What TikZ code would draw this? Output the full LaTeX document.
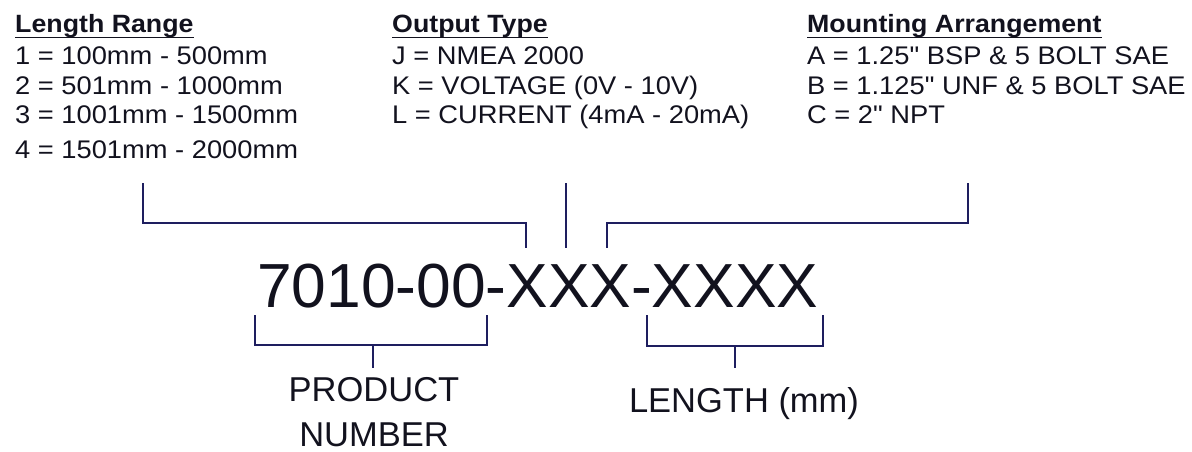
\documentclass[tikz,border=0pt]{standalone}
\usepackage{fontspec}
\setmainfont{Liberation Sans}
\newfontfamily\topfont[FakeStretch=1.07]{Liberation Sans}
\definecolor{navy}{RGB}{30,30,95}
\definecolor{ink}{RGB}{18,18,30}
\begin{document}
\begin{tikzpicture}[x=1pt,y=1pt,
  lbl/.style={inner sep=0, anchor=base west, text=ink, font=\topfont\fontsize{25.5}{30}\selectfont},
  hd/.style={lbl, font=\topfont\bfseries\fontsize{25}{30}\selectfont},
  big/.style={inner sep=0, anchor=base west, text=ink, font=\fontsize{62.3}{70}\selectfont},
  caption/.style={inner sep=0, anchor=base, text=ink, font=\fontsize{34.5}{40}\selectfont},
  brk/.style={draw=navy, line width=2.6pt, line join=miter},
  ul/.style={draw=ink, line width=1.7pt}]
\useasboundingbox (0,0) rectangle (1192,-452);
% headings
\node[hd] (h1) at (15,-33) {Length Range};
\node[hd] (h2) at (392,-33) {Output Type};
\node[hd] (h3) at (807,-33) {Mounting Arrangement};
\foreach \h in {h1,h2,h3}
  \draw[ul] ([yshift=-4.5pt]\h.base west) -- ([yshift=-4.5pt]\h.base east);
% column 1
\node[lbl] (r1) at (15,-65) {1 = 100mm - 500mm};
\node[lbl] (r2) at (15,-95) {2 = 501mm - 1000mm};
\node[lbl] (r3) at (15,-124) {3 = 1001mm - 1500mm};
\node[lbl] (r4) at (15,-158) {4 = 1501mm - 2000mm};
% column 2
\node[lbl] (o1) at (392,-65) {J = NMEA 2000};
\node[lbl] (o2) at (392,-95) {K = VOLTAGE (0V - 10V)};
\node[lbl] (o3) at (392,-124) {L = CURRENT (4mA - 20mA)};
% column 3
\node[lbl] (m1) at (807,-65) {A = 1.25" BSP \& 5 BOLT SAE};
\node[lbl] (m2) at (807,-95) {B = 1.125" UNF \& 5 BOLT SAE};
\node[lbl] (m3) at (807,-124) {C = 2" NPT};
% code
\node[big] (code) at (257,-307) {7010-00-XXX-XXXX};
% upper brackets
\coordinate (la) at (143,-183);
\coordinate (lb) at (526,-248);
\coordinate (ma) at (566,-183);
\coordinate (mb) at (566,-248);
\coordinate (ra) at (968,-183);
\coordinate (rb) at (607,-248);
\draw[brk] (la) |- (526,-223) -- (lb);
\draw[brk] (ma) -- (mb);
\draw[brk] (ra) |- (607,-223) -- (rb);
% lower brackets
\coordinate (pa) at (255,-315);
\coordinate (pb) at (487,-315);
\coordinate (ps) at (373,-345);
\coordinate (pe) at (373,-368);
\draw[brk] (pa) |- (487,-345) -- (pb);
\draw[brk] (ps) -- (pe);
\coordinate (qa) at (647,-315);
\coordinate (qb) at (823,-315);
\coordinate (qs) at (735,-346);
\coordinate (qe) at (735,-368);
\draw[brk] (qa) |- (823,-346) -- (qb);
\draw[brk] (qs) -- (qe);
% labels
\node[caption] (prod) at (374,-401) {PRODUCT};
\node[caption] (num) at (374,-446) {NUMBER};
\node[caption] (len) at (744,-412) {LENGTH (mm)};
\end{tikzpicture}
\end{document}
